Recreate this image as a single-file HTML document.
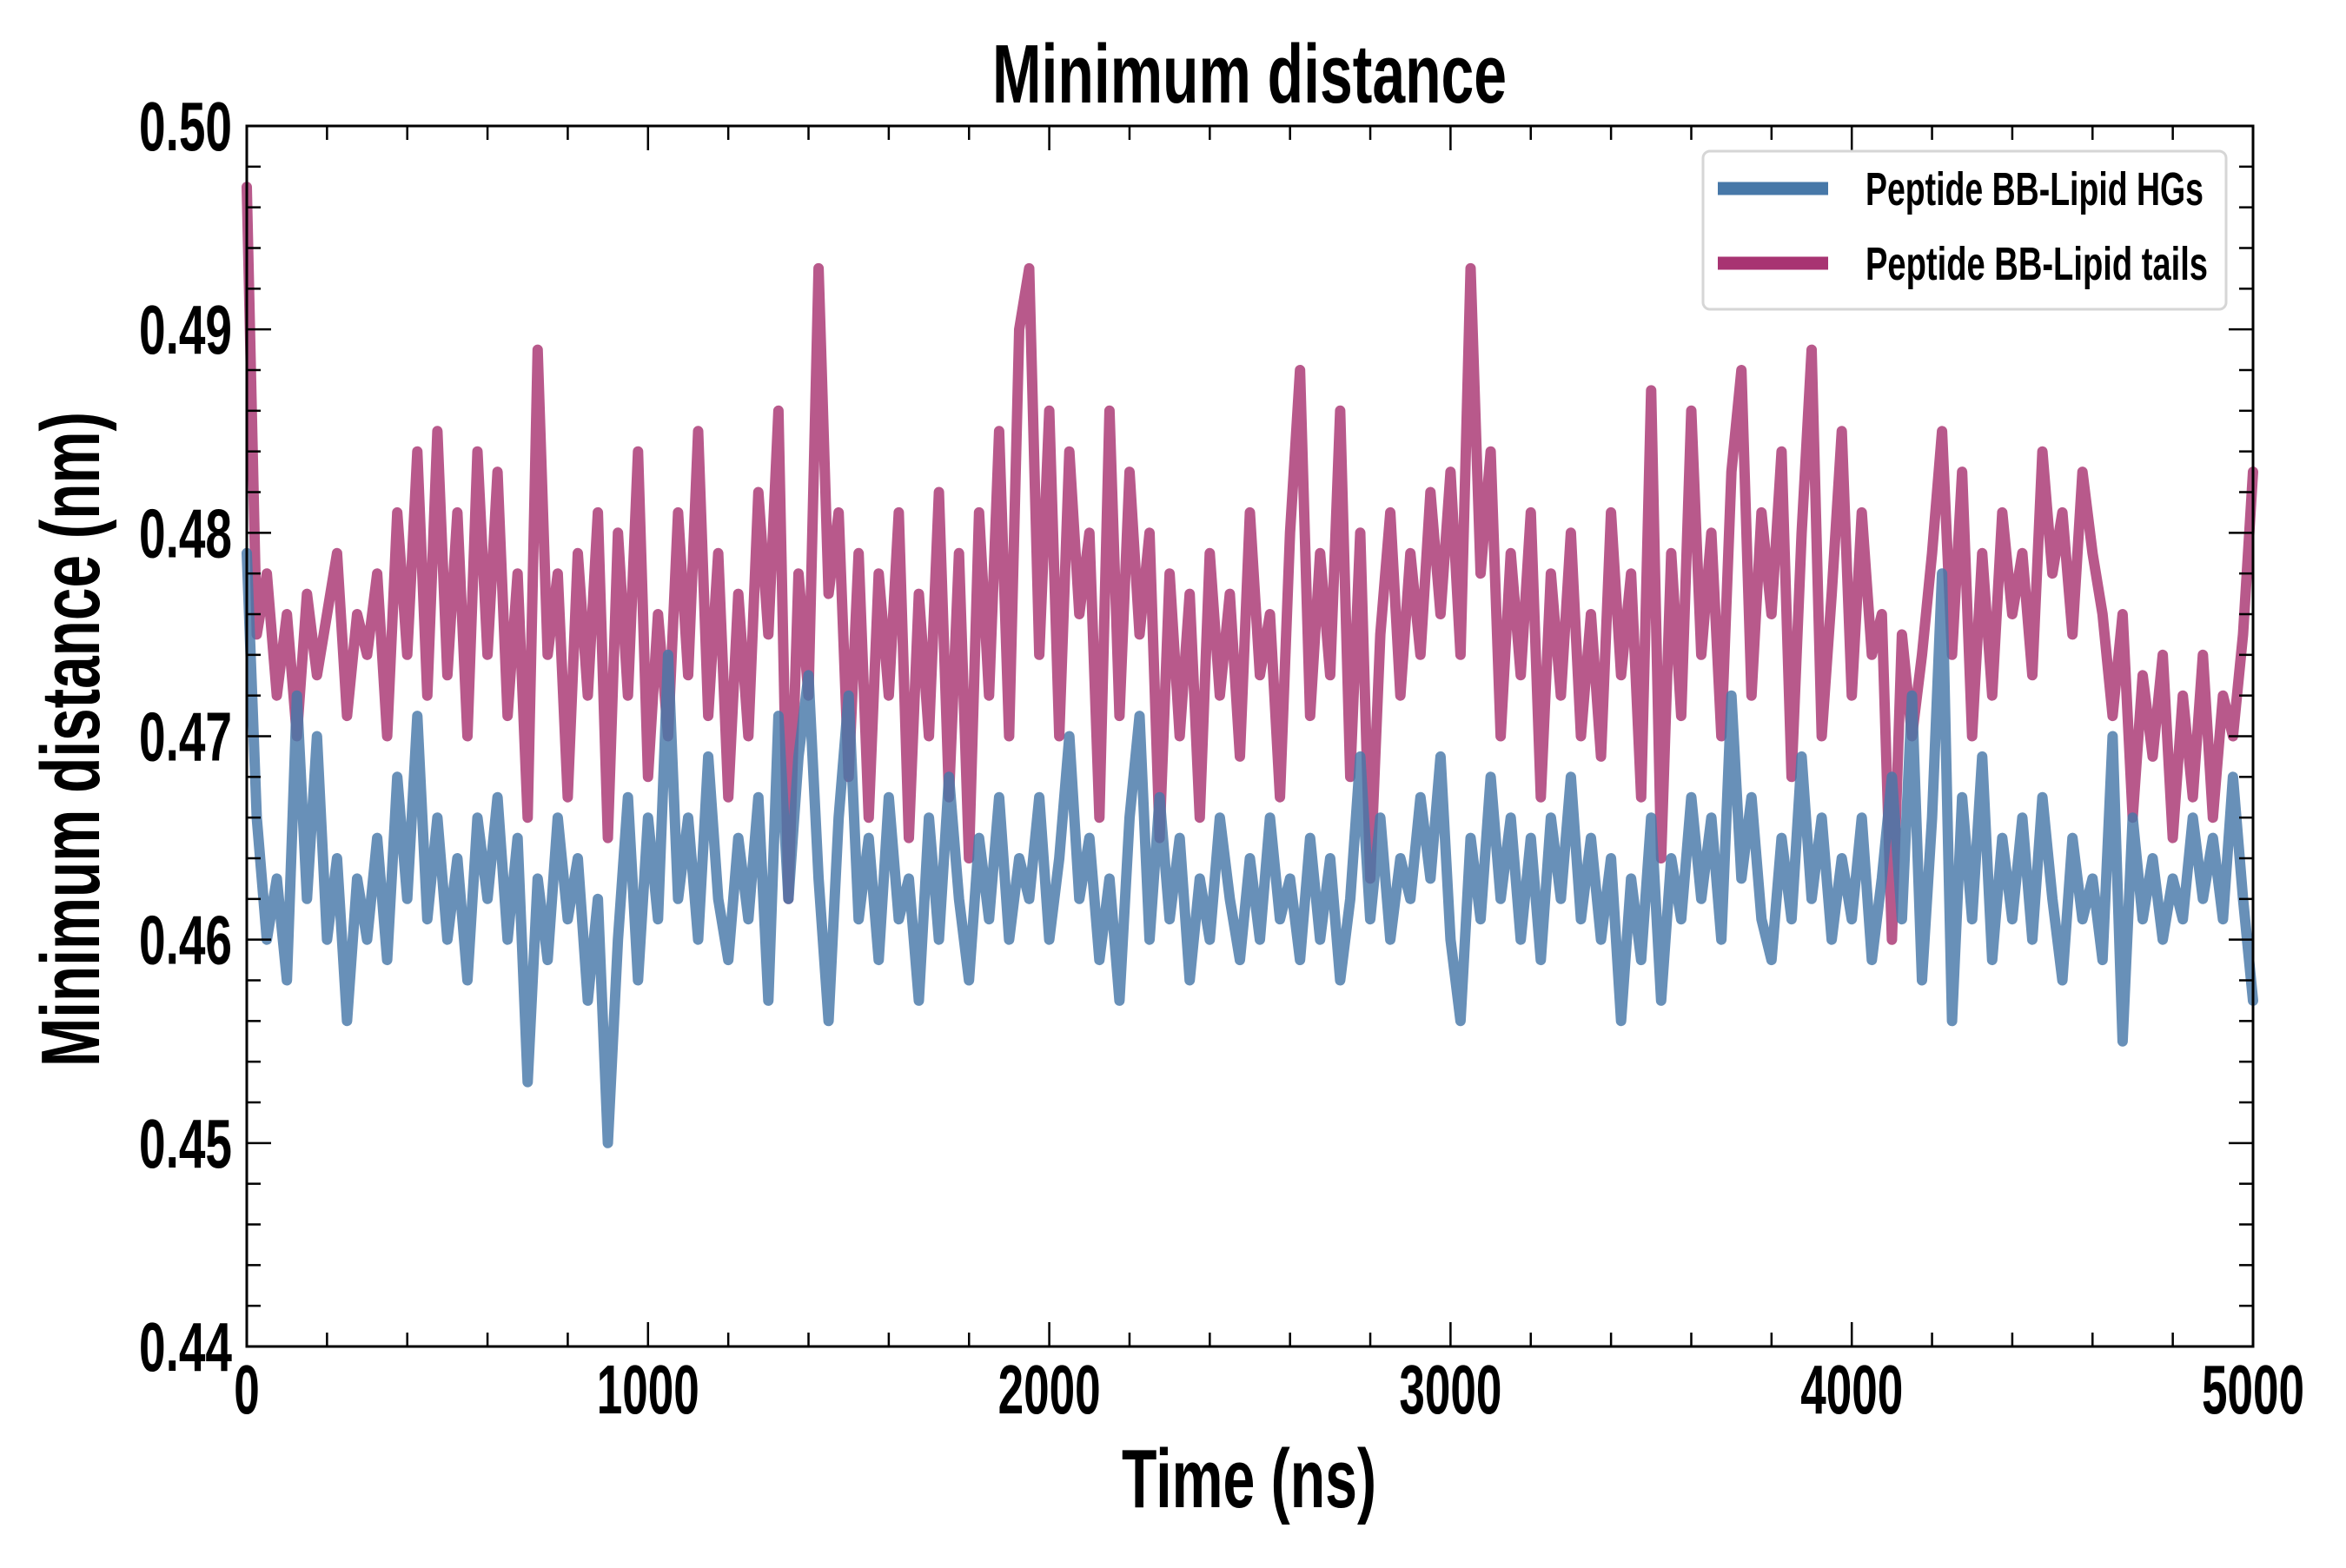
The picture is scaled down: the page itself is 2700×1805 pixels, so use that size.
<!DOCTYPE html>
<html><head><meta charset="utf-8"><style>
body{margin:0;background:#fff}
svg text{font-family:"Liberation Sans",sans-serif;font-weight:bold;fill:#000}
</style></head><body>
<svg id="chart" width="2700" height="1800" viewBox="0 0 2700 1800" xmlns="http://www.w3.org/2000/svg">
<g id="plot"></g>
</svg>
<script>
const timeStart = 0, timeStep = 25;
const xTicks = [0,1000,2000,3000,4000,5000];
const yTicks = [0.44,0.45,0.46,0.47,0.48,0.49,0.50];
const yTickLabels = ["0.44","0.45","0.46","0.47","0.48","0.49","0.50"];
const tailsValues = [.497,.475,.478,.472,.476,.470,.477,.473,.476,.479,.471,.476,.474,.478,.470,.481,.474,.484,.472,.485,.473,.481,.470,.484,.474,.483,.471,.478,.466,.489,.474,.478,.467,.479,.472,.481,.465,.480,.472,.484,.468,.476,.470,.481,.473,.485,.471,.479,.467,.477,.470,.482,.475,.486,.462,.478,.472,.493,.477,.481,.468,.479,.466,.478,.472,.481,.465,.477,.470,.482,.467,.479,.464,.481,.472,.485,.470,.490,.493,.474,.486,.470,.484,.476,.480,.466,.486,.471,.483,.475,.480,.465,.478,.470,.477,.466,.479,.472,.477,.469,.481,.473,.476,.467,.480,.488,.471,.479,.473,.486,.468,.480,.463,.475,.481,.472,.479,.474,.482,.476,.483,.474,.493,.478,.484,.470,.479,.473,.481,.467,.478,.472,.480,.470,.476,.469,.481,.473,.478,.467,.487,.464,.479,.471,.486,.474,.480,.470,.483,.488,.472,.481,.476,.484,.468,.480,.489,.470,.477,.485,.472,.481,.474,.476,.460,.475,.470,.474,.479,.485,.474,.483,.470,.479,.472,.481,.476,.479,.473,.484,.478,.481,.475,.483,.479,.476,.471,.476,.466,.473,.469,.474,.465,.472,.467,.474,.466,.472,.470,.475,.483];
const hgValues = [.479,.466,.460,.463,.458,.472,.462,.470,.460,.464,.456,.463,.460,.465,.459,.468,.462,.471,.461,.466,.460,.464,.458,.466,.462,.467,.460,.465,.453,.463,.459,.466,.461,.464,.457,.462,.450,.460,.467,.458,.466,.461,.474,.462,.466,.460,.469,.462,.459,.465,.461,.467,.457,.471,.462,.469,.473,.463,.456,.466,.472,.461,.465,.459,.467,.461,.463,.457,.466,.460,.468,.462,.458,.465,.461,.467,.460,.464,.462,.467,.460,.464,.470,.462,.465,.459,.463,.457,.466,.471,.460,.467,.461,.465,.458,.463,.460,.466,.462,.459,.464,.460,.466,.461,.463,.459,.465,.460,.464,.458,.462,.469,.461,.466,.460,.464,.462,.467,.463,.469,.460,.456,.465,.461,.468,.462,.466,.460,.465,.459,.466,.462,.468,.461,.465,.460,.464,.456,.463,.459,.466,.457,.464,.461,.467,.462,.466,.460,.472,.463,.467,.461,.459,.465,.461,.469,.462,.466,.460,.464,.461,.466,.459,.463,.468,.461,.472,.458,.466,.478,.456,.467,.461,.469,.459,.465,.461,.466,.460,.467,.462,.458,.465,.461,.463,.459,.470,.455,.466,.461,.464,.460,.463,.461,.466,.462,.465,.461,.468,.462,.457];

const L=284,R=2593,T=145,B=1550;
const xmin=0,xmax=5000,ymin=0.44,ymax=0.50;
const X=v=>L+(v-xmin)/(xmax-xmin)*(R-L);
const Y=v=>B-(v-ymin)/(ymax-ymin)*(B-T);
const NS="http://www.w3.org/2000/svg";
const svg=document.getElementById('chart');
function mk(tag,attrs,parent){const e=document.createElementNS(NS,tag);for(const k in attrs)e.setAttribute(k,attrs[k]);(parent||svg).appendChild(e);return e;}

function series(vals,color,name){
  const d=vals.map((v,i)=>(i?'L':'M')+X(timeStart+i*timeStep).toFixed(1)+' '+Y(v).toFixed(1)).join(' ');
  const p=mk('path',{d:d,fill:'none',stroke:color,'stroke-width':12,'stroke-opacity':0.82,'stroke-linejoin':'round','stroke-linecap':'round'});
  
  
}
series(tailsValues,'#a83472','series-lipid-tails');
series(hgValues,'#4778a8','series-lipid-hgs');

const fr=mk('rect',{x:L,y:T,width:R-L,height:B-T,fill:'none',stroke:'#000','stroke-width':3});



for(let v=0;v<=5000;v+=200){
  const major=v%1000===0, len=major?28:16, x=X(v);
  const t1=mk('line',{x1:x,x2:x,y1:B,y2:B-len,stroke:'#000','stroke-width':2.5});
  
  
  mk('line',{x1:x,x2:x,y1:T,y2:T+len,stroke:'#000','stroke-width':2.5});
}
xTicks.forEach(v=>{
  const s=String(v);
  const t=mk('text',{x:X(v),y:1627,'font-size':80,'text-anchor':'middle',textLength:s.length*29.5,lengthAdjust:'spacingAndGlyphs'});
  t.textContent=s;
  
  
});
for(let k=0;k<=30;k++){
  const v=0.44+k*0.002, major=k%5===0, len=major?28:16, y=Y(v);
  const t1=mk('line',{x1:L,x2:L+len,y1:y,y2:y,stroke:'#000','stroke-width':2.5});
  
  
  mk('line',{x1:R,x2:R-len,y1:y,y2:y,stroke:'#000','stroke-width':2.5});
}
yTicks.forEach((v,i)=>{
  const t=mk('text',{x:267-107,y:Y(v)+28,'font-size':80,textLength:107,lengthAdjust:'spacingAndGlyphs'});
  t.textContent=yTickLabels[i];
  
  
});
let t=mk('text',{x:1438-296,y:118,'font-size':96,textLength:592,lengthAdjust:'spacingAndGlyphs'});t.textContent='Minimum distance';


t=mk('text',{x:1438-147,y:1735,'font-size':96,textLength:293,lengthAdjust:'spacingAndGlyphs'});t.textContent='Time (ns)';


t=mk('text',{x:-377,y:0,'font-size':96,textLength:754,lengthAdjust:'spacingAndGlyphs',transform:'translate(114 851) rotate(-90)'});t.textContent='Minimum distance (nm)';


const lg=mk('g',{});


mk('rect',{x:1960,y:174,width:602,height:182,rx:8,fill:'#fff','fill-opacity':0.9,stroke:'#d6d6d6','stroke-width':3},lg);
[['Peptide BB-Lipid HGs','#4778a8',217,389],['Peptide BB-Lipid tails','#a83472',303,394]].forEach(([lab,c,y,w])=>{
  const e=mk('g',{},lg);
  
  
  mk('line',{x1:1977,x2:2104,y1:y,y2:y,stroke:c,'stroke-width':15},e);
  const tx=mk('text',{x:2147,y:y+19,'font-size':54,textLength:w,lengthAdjust:'spacingAndGlyphs'},e);tx.textContent=lab;
});
</script>
</body></html>
